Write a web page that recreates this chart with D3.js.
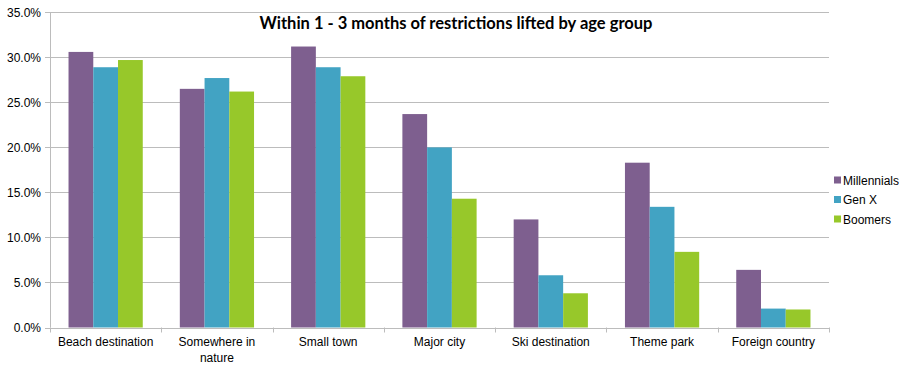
<!DOCTYPE html>
<html><head><meta charset="utf-8">
<script src="https://cdn.jsdelivr.net/npm/d3@7"></script>
<style>body{margin:0;background:#fff;} svg{display:block;}</style>
</head><body><svg id="c" width="904" height="366"></svg>
<script>
const categories = ["Beach destination","Somewhere in nature","Small town","Major city","Ski destination","Theme park","Foreign country"];
const seriesNames = ["Millennials","Gen X","Boomers"];
const millennials = [30.6, 26.5, 31.2, 23.7, 12.0, 18.3, 6.4];
const genX = [28.9, 27.7, 28.9, 20.0, 5.8, 13.4, 2.1];
const boomers = [29.7, 26.2, 27.9, 14.3, 3.8, 8.4, 2.0];
const yTicks = [0, 5, 10, 15, 20, 25, 30, 35];
const colors = ["#7E5F8F", "#42A3C3", "#97C82A"];
const title = "Within 1 - 3 months of restrictions lifted by age group";

(function(){
const series = [millennials, genX, boomers];
const svg = d3.select("#c");
const FONT = "'Liberation Sans', Arial, sans-serif";
const pLeft = 50, pRight = 829, pTop = 12.3, pBottom = 327.5;
const x = d3.scaleBand().domain(categories).range([pLeft, pRight]).paddingInner(0.333).paddingOuter(0.1665);
const x0 = d3.scaleBand().domain(categories).range([pLeft, pRight]);
const xs = d3.scaleBand().domain(seriesNames).range([0, x.bandwidth()]);
const y = d3.scaleLinear().domain([0, 35]).range([pBottom, pTop]);

svg.append("g").selectAll("line").data(yTicks).join("line")
  .attr("x1", pLeft - 5).attr("x2", pRight)
  .attr("y1", d => Math.round(y(d)) + 0.5).attr("y2", d => Math.round(y(d)) + 0.5)
  .attr("stroke", "#bcbcbc").attr("stroke-width", 1);

svg.append("line").attr("x1", pLeft + 0.5).attr("x2", pLeft + 0.5).attr("y1", pTop).attr("y2", pBottom)
  .attr("stroke", "#bcbcbc");

svg.append("g").selectAll("text").data(yTicks).join("text")
  .attr("x", 41).attr("y", d => y(d) + 4.5).attr("text-anchor", "end")
  .style("font-family", FONT).attr("font-size", 12).attr("fill", "#000")
  .text(d => d.toFixed(1) + "%");

const g = svg.append("g");
series.forEach((vals, si) => {
  g.selectAll(null).data(categories).join("rect")
    .attr("x", (c) => x(c) + xs(seriesNames[si]))
    .attr("width", xs.bandwidth())
    .attr("y", (c, i) => y(vals[i]))
    .attr("height", (c, i) => pBottom - y(vals[i]))
    .attr("fill", colors[si]);
});

const tickXs = categories.map(c => x0(c)).concat([pRight]);
svg.append("g").selectAll("line").data(tickXs).join("line")
  .attr("x1", d => Math.round(d) + 0.5).attr("x2", d => Math.round(d) + 0.5)
  .attr("y1", pBottom).attr("y2", pBottom + 5).attr("stroke", "#bcbcbc");

const lab = svg.append("g").style("font-family", FONT).attr("font-size", 12).attr("fill", "#000");
categories.forEach(c => {
  const cx = x0(c) + x0.bandwidth() / 2;
  const lines = c === "Somewhere in nature" ? ["Somewhere in", "nature"] : [c];
  lines.forEach((l, li) => {
    lab.append("text").attr("x", cx).attr("y", 346 + li * 16).attr("text-anchor", "middle").text(l);
  });
});

svg.append("text").attr("x", 456).attr("y", 29).attr("text-anchor", "middle")
  .style("font-family", "Lato, 'Open Sans', sans-serif").attr("font-weight", "bold").attr("font-size", 16.5)
  .attr("fill", "#000").text(title);

const leg = svg.append("g");
seriesNames.forEach((s, i) => {
  const ly = 180 + i * 19.5;
  leg.append("rect").attr("x", 834).attr("y", ly - 3.5).attr("width", 7).attr("height", 7).attr("fill", colors[i]);
  leg.append("text").attr("x", 843).attr("y", ly + 4.5).style("font-family", FONT)
    .attr("font-size", 12).attr("fill", "#000").text(s);
});
})();
</script></body></html>
